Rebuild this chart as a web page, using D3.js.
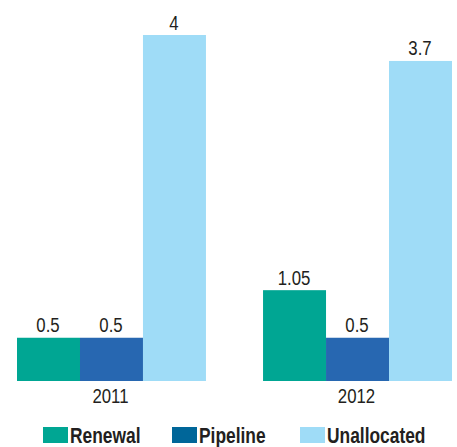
<!DOCTYPE html>
<html>
<head>
<meta charset="utf-8">
<script src="https://cdn.jsdelivr.net/npm/d3@7/dist/d3.min.js"></script>
<style>
  html, body { margin: 0; padding: 0; background: #fff; }
  svg { display: block; }
  text { font-family: "Liberation Sans", Arial, sans-serif; }
</style>
</head>
<body>
<svg id="chart" width="457" height="447"></svg>
<script>
const years = ["2011", "2012"];
const seriesNames = ["Renewal", "Pipeline", "Unallocated"];
const renewal = [0.5, 1.05];
const pipeline = [0.5, 0.5];
const unallocated = [4, 3.7];
const valueLabels = [["0.5", "0.5", "4"], ["1.05", "0.5", "3.7"]];

const barColors = ["#00a693", "#2767b1", "#9fdcf7"];
const legendColors = ["#00a693", "#006699", "#9fdcf7"];
const textColor = "#231f20";
const narrow = 0.8;

const svg = d3.select("#chart");
const seriesValues = [renewal, pipeline, unallocated];
const rows = years.map((yr, i) => ({
  year: yr,
  vals: seriesNames.map((s, j) => ({ key: s, value: seriesValues[j][i], label: valueLabels[i][j], idx: j }))
}));

const x0 = d3.scaleBand().domain(years).range([17, 452]).paddingInner(0.232).paddingOuter(0);
const x1 = d3.scaleBand().domain(seriesNames).range([0, x0.bandwidth()]).padding(0);
const y = d3.scaleLinear().domain([0, 4]).range([381, 35]);

const groups = svg.append("g").selectAll("g.grp").data(rows).join("g")
  .attr("class", "grp")
  .attr("transform", d => `translate(${x0(d.year)},0)`);

groups.selectAll("rect").data(d => d.vals).join("rect")
  .attr("x", d => x1(d.key))
  .attr("width", x1.bandwidth())
  .attr("y", d => y(d.value))
  .attr("height", d => y(0) - y(d.value))
  .attr("fill", d => barColors[d.idx]);

groups.selectAll("text.val").data(d => d.vals).join("text")
  .attr("class", "val")
  .attr("transform", d => `translate(${x1(d.key) + x1.bandwidth() / 2 - 0.5},${y(d.value) - 5.5}) scale(${narrow},1)`)
  .attr("text-anchor", "middle")
  .attr("font-size", 21)
  .attr("fill", textColor)
  .text(d => d.label);

const xAxis = d3.axisBottom(x0).tickSize(0).tickPadding(7);
const ax = svg.append("g").attr("transform", `translate(0,${y(0)})`).call(xAxis);
ax.select(".domain").remove();
ax.selectAll("text")
  .attr("font-size", 21)
  .attr("fill", textColor)
  .attr("transform", `translate(-1,0) scale(${narrow},1)`)
  .style("font-family", '"Liberation Sans", Arial, sans-serif');

// legend
const legendX = [43, 172, 300];
const lg = svg.append("g").selectAll("g").data(seriesNames).join("g")
  .attr("transform", (d, i) => `translate(${legendX[i]},427)`);
lg.append("rect").attr("width", 25).attr("height", 16).attr("fill", (d, i) => legendColors[i]);
lg.append("text")
  .attr("transform", `translate(27,16) scale(0.79,1)`)
  .attr("font-size", 22).attr("font-weight", "bold")
  .attr("fill", textColor).text(d => d);
</script>
</body>
</html>
